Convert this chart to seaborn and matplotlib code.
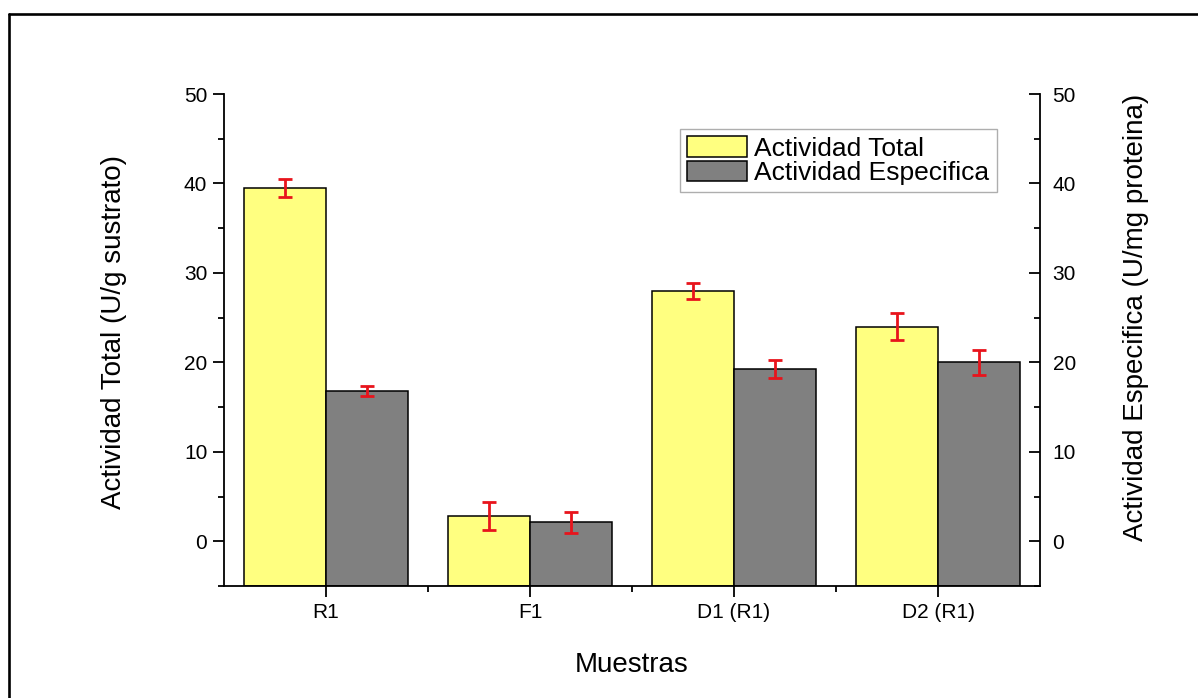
import numpy as np
import pandas as pd
import seaborn as sns
import matplotlib.pyplot as plt
from matplotlib.ticker import MultipleLocator, FixedLocator
from matplotlib.lines import Line2D
from matplotlib.patches import Patch

# Samples and measured activities (mean and error)
muestras = ["R1", "F1", "D1 (R1)", "D2 (R1)"]
actividad_total = [39.5, 2.8, 28.0, 24.0]
error_total = [1.0, 1.55, 0.9, 1.5]
actividad_especifica = [16.8, 2.1, 19.3, 20.0]
error_especifica = [0.55, 1.2, 1.0, 1.4]
series = ["Actividad Total", "Actividad Especifica"]
colores = ["#FFFF80", "#808080"]

sns.set_theme(style="white")
plt.rcParams["font.family"] = ["Liberation Sans", "DejaVu Sans"]

df = pd.DataFrame({
    "Muestra": muestras * 2,
    "Serie": [series[0]] * len(muestras) + [series[1]] * len(muestras),
    "Valor": actividad_total + actividad_especifica,
})

W, H = 1198, 698
fig = plt.figure(figsize=(W / 100, H / 100), dpi=100)
ax_l, ax_r, ax_t, ax_b = 224, 1040, 94, 586
ax = fig.add_axes([ax_l / W, 1 - ax_b / H, (ax_r - ax_l) / W, (ax_b - ax_t) / H])

sns.barplot(data=df, x="Muestra", y="Valor", hue="Serie", palette=colores,
            width=0.8, edgecolor="black", linewidth=1.1, saturation=1,
            errorbar=None, legend=False, ax=ax, zorder=2)

ymin, ymax = -5, 50
# bars rise from the bottom of the axis
for cont, err in zip(ax.containers, [error_total, error_especifica]):
    for p in cont:
        top = p.get_y() + p.get_height()
        p.set_y(ymin)
        p.set_height(top - ymin)
    xs = [p.get_x() + p.get_width() / 2 for p in cont]
    tops = [p.get_y() + p.get_height() for p in cont]
    ax.errorbar(xs, tops, yerr=err, fmt="none", ecolor="#e8141c",
                elinewidth=2.0, capsize=5, capthick=2.0, zorder=5)

ax.set_ylim(ymin, ymax)
ax.set_xlim(-0.5, len(muestras) - 0.5)
ax.yaxis.set_major_locator(MultipleLocator(10))
ax.yaxis.set_minor_locator(MultipleLocator(5))
ax.xaxis.set_minor_locator(FixedLocator([i + 0.5 for i in range(len(muestras) - 1)]))

for s in ["left", "bottom"]:
    ax.spines[s].set_linewidth(1.3)
    ax.spines[s].set_color("black")
ax.spines["top"].set_visible(False)
ax.spines["right"].set_visible(False)

ax.tick_params(axis="both", which="major", direction="out", length=8, width=1.3,
               colors="black", labelsize=15, pad=4)
ax.tick_params(axis="both", which="minor", direction="out", length=4, width=1.3,
               colors="black")
ax.tick_params(axis="y", which="both", left=True)
ax.tick_params(axis="x", which="both", bottom=True)

ax.set_xlabel("Muestras", fontsize=20, labelpad=21.5, color="black")
ax.set_ylabel("Actividad Total (U/g sustrato)", fontsize=20, labelpad=41, color="black")
ax.yaxis.label.set_y(0.516)

ax2 = ax.twinx()
ax2.set_ylim(ymin, ymax)
ax2.yaxis.set_major_locator(MultipleLocator(10))
ax2.yaxis.set_minor_locator(MultipleLocator(5))
for s in ["left", "bottom", "top"]:
    ax2.spines[s].set_visible(False)
ax2.spines["right"].set_linewidth(1.3)
ax2.spines["right"].set_color("black")
ax2.tick_params(axis="y", which="major", direction="in", length=8, width=1.3,
                colors="black", labelsize=15, pad=9, right=True)
ax2.tick_params(axis="y", which="minor", direction="in", length=4, width=1.3,
                colors="black", right=True)
ax2.set_ylabel("Actividad Especifica (U/mg proteina)", fontsize=20, labelpad=34,
               color="black")
ax2.yaxis.label.set_y(0.547)

handles = [Patch(facecolor=c, edgecolor="black", linewidth=1.1) for c in colores]
leg = ax.legend(handles, series, loc="upper right",
                bbox_to_anchor=((997 - ax_l) / (ax_r - ax_l), (ax_b - 129) / (ax_b - ax_t)),
                fontsize=19, frameon=True, fancybox=False, shadow=False,
                handlelength=2.25, handleheight=0.8, handletextpad=0.3,
                borderpad=0.28, labelspacing=0.0, borderaxespad=0)
leg.get_frame().set_edgecolor("#9a9a9a")
leg.get_frame().set_linewidth(1.0)
for t in leg.get_texts():
    t.set_color("black")

# outer frame
fig.add_artist(Line2D([9 / W, 9 / W], [0, 1 - 13.5 / H], transform=fig.transFigure,
                      color="black", linewidth=1.9))
fig.add_artist(Line2D([9 / W, 1], [1 - 13.5 / H, 1 - 13.5 / H], transform=fig.transFigure,
                      color="black", linewidth=1.9))

fig.savefig("out.png", dpi=100, facecolor="white")
